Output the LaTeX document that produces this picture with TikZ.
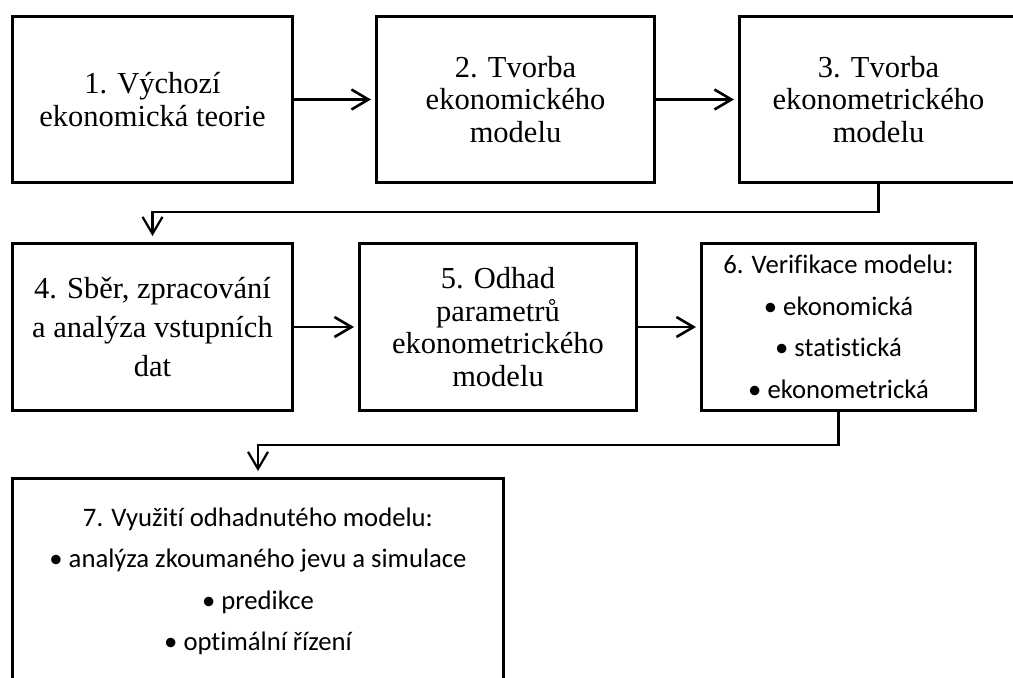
\documentclass[tikz,border=0pt]{standalone}
\usepackage{fontspec}
\setmainfont{Liberation Serif}
\newfontfamily\calibri[Ligatures=NoCommon]{Carlito}
\usetikzlibrary{arrows.meta}

\begin{document}
\begin{tikzpicture}[x=1pt, y=-1pt,
    stage/.style ={draw, line width=3pt, align=center, inner sep=0pt,
      minimum height=166pt, font=\fontsize{30.5}{32.5}\selectfont},
    listing/.style ={stage, font=\calibri\fontsize{26.7}{41.5}\selectfont},
    flow/.style ={line width=2.6pt, -{Straight Barb[length=17pt, width=20pt]},
      shorten >=4pt}]
   \useasboundingbox (0,0) rectangle (1013,678);
   \clip (0,0) rectangle (1013,678);

   \node[stage, minimum width=280pt] (K1) at (152.5,99.5) {1. Výchozí\\ekonomická teorie};
   \node[stage, minimum width=278pt] (K2) at (515.5,99.5) {2. Tvorba\\ekonomického\\modelu};
   \node[stage, minimum width=278pt] (K3) at (878.5,99.5) {3. Tvorba\\ekonometrického\\modelu};
   \node[stage, minimum width=280pt, minimum height=167pt,
     font=\fontsize{30.5}{39}\selectfont] (K4) at (152.5,327) {4. Sběr, zpracování\\a analýza vstupních\\dat};
   \node[stage, minimum width=277pt, minimum height=167pt] (K5) at (498,327) {5. Odhad\\parametrů\\ekonometrického\\modelu};
   \node[listing, minimum width=274pt, minimum height=167pt] (K6) at (838.5,327)
     {6. Verifikace modelu:\\• ekonomická\\• statistická\\• ekonometrická};
   \node[listing, minimum width=491pt, minimum height=206pt] (K7) at (258,581.5)
     {7. Využití odhadnutého modelu:\\• analýza zkoumaného jevu a simulace\\• predikce\\• optimální řízení};

   \draw[flow] (K1) to (K2);
   \draw[flow] (K2) to (K3);
   \draw[flow, line width=2.2pt, shorten >=6pt] (K3.south) -- ++(0,28) -| (K4.north);
   \draw[flow] (K4) to (K5);
   \draw[flow] (K5) to (K6);
   \draw[flow, line width=2.2pt, shorten >=6pt] (K6.south) -- ++(0,33) -| (K7.north);
 \end{tikzpicture}
\end{document}
